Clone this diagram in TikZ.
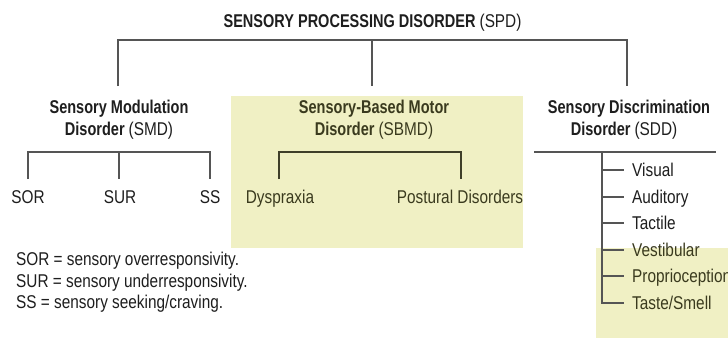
\documentclass[tikz,border=0pt]{standalone}
\usepackage{fontspec}
\setmainfont{Liberation Sans}[FakeStretch=0.83, BoldFeatures={FakeStretch=0.785}]
\usetikzlibrary{calc}
\definecolor{ink}{HTML}{1E1E1E}
\definecolor{olivetxt}{HTML}{3A3A1E}
\definecolor{hl}{HTML}{F0F0C4}
\definecolor{linec}{HTML}{555555}
\begin{document}
\begin{tikzpicture}[x=1pt,y=-1pt,
  txt/.style={inner sep=0pt, anchor=base, text=ink, font=\fontsize{18.5}{22}\selectfont},
  ltxt/.style={txt, anchor=base west},
  otxt/.style={txt, text=olivetxt},
  oltxt/.style={ltxt, text=olivetxt},
  conn/.style={draw=linec, line width=1.5pt},
  oconn/.style={draw=olivetxt!80!linec, line width=1.5pt},
  hlbox/.style={fill=hl, draw=none}]
\clip (0,0) rectangle (728,338);
\fill[white] (0,0) rectangle (728,338);
% highlight boxes
\fill[hlbox] (231,96) rectangle (523,248);
\fill[hlbox] (596,248) rectangle (728,338);

% title
\node[txt] (title) at (372.5,27) {\bfseries SENSORY PROCESSING DISORDER \mdseries(SPD)};

% level 2
\node[txt] (smd1) at (119,113) {\bfseries Sensory Modulation};
\node[txt] (smd2) at (119,135) {\bfseries Disorder \mdseries(SMD)};
\node[otxt] (sbmd1) at (374,113) {\bfseries Sensory-Based Motor};
\node[otxt] (sbmd2) at (374,135) {\bfseries Disorder \mdseries(SBMD)};
\node[txt] (sdd1) at (629,113) {\bfseries Sensory Discrimination};
\node[txt] (sdd2) at (624,135) {\bfseries Disorder \mdseries(SDD)};

% top bus
\coordinate (busL) at (118,40);
\coordinate (busM) at (372,40);
\coordinate (busR) at (627,40);
\coordinate (endL) at (118,86);
\coordinate (endM) at (372,86);
\coordinate (endR) at (627,86);
\draw[conn] (endL) -- (busL) -- (busR) -- (endR);
\draw[conn] (busM) -- (endM);

% SMD children
\node[txt] (sor) at (28,203) {SOR};
\node[txt] (sur) at (120,203) {SUR};
\node[txt] (ss) at (210,203) {SS};
\coordinate (smdL) at (28,152);
\coordinate (smdM) at (119,152);
\coordinate (smdR) at (210,152);
\coordinate (sorT) at (28,179);
\coordinate (surT) at (119,179);
\coordinate (ssT) at (210,179);
\draw[conn] (sorT) -- (smdL) -- (smdR) -- (ssT);
\draw[conn] (smdM) -- (surT);

% SBMD children
\node[otxt] (dys) at (280,203) {Dyspraxia};
\node[otxt] (post) at (460,203) {Postural Disorders};
\coordinate (sbL) at (279,152);
\coordinate (sbR) at (461,152);
\coordinate (dysT) at (279,179);
\coordinate (postT) at (461,179);
\draw[oconn] (dysT) -- (sbL) -- (sbR) -- (postT);

% SDD children
\coordinate (sddL) at (534,152);
\coordinate (sddR) at (716,152);
\coordinate (sddV) at (602,152);
\draw[conn] (sddL) -- (sddR);
\node[ltxt] (vis) at (632,176.5) {Visual};
\node[ltxt] (aud) at (632,203.5) {Auditory};
\node[ltxt] (tac) at (632,229.5) {Tactile};
\node[oltxt] (ves) at (632,256.5) {Vestibular};
\node[oltxt] (pro) at (632,282.5) {Proprioception};
\node[oltxt] (tas) at (632,309.5) {Taste/Smell};
\coordinate (t1) at (602,170);
\coordinate (t2) at (602,197);
\coordinate (t3) at (602,223);
\coordinate (t4) at (602,250);
\coordinate (t5) at (602,276);
\coordinate (t6) at (602,303);
\draw[conn] (sddV) -- (t6) -- ([xshift=-8pt]tas.west |- t6);
\foreach \t/\n in {t1/vis,t2/aud,t3/tac,t4/ves,t5/pro}
  \draw[conn] (\t) -- ([xshift=-8pt]\n.west |- \t);

% legend
\node[ltxt] (leg1) at (16,265) {SOR = sensory overresponsivity.};
\node[ltxt] (leg2) at (16,287) {SUR = sensory underresponsivity.};
\node[ltxt] (leg3) at (16,308) {SS = sensory seeking/craving.};
\end{tikzpicture}
\end{document}
